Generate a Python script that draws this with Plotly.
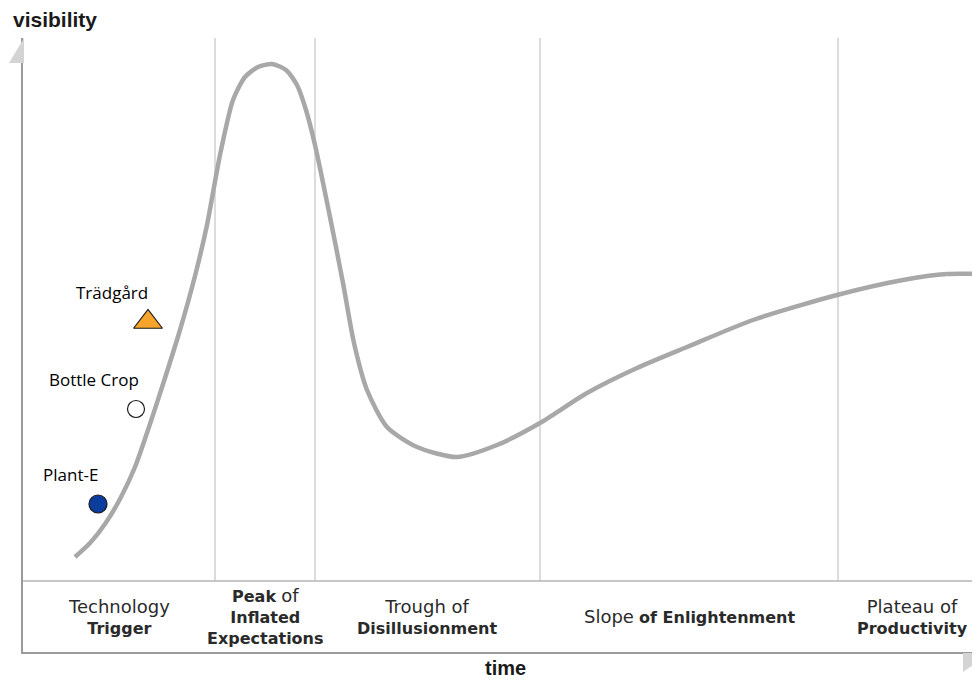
import plotly.graph_objects as go

# ---- data (time units, visibility units) ----
curve_time = [52, 67, 82, 97, 112, 127, 142, 157, 172, 184, 197, 210, 222, 235, 249, 263, 274,
              283, 292, 307, 320, 331, 344, 364, 394, 434, 474, 517, 564, 614, 664, 730, 814,
              880, 924, 957]
curve_vis = [95, 109, 128, 153, 185, 228, 274, 322, 376, 427, 497, 552, 575, 585, 588, 582, 567,
             542, 507, 435, 369, 309, 262, 225, 205, 195, 207, 229, 259, 284, 305, 332, 357,
             372, 378, 378]

tech_names = ["Trädgård", "Bottle Crop", "Plant-E"]
tech_time = [125, 113, 75]
tech_vis = [330, 243, 148]
tech_symbols = ["triangle-up", "circle", "circle"]
tech_colors = ["#f6a42c", "#ffffff", "#0a3d9e"]
label_time = [89, 71, 47]
label_vis = [360, 273, 178]

phase_bounds = [192, 292, 517, 815]
phase_centers = [96, 242, 404, 667, 889]
R = '<span style="font-size:18px">'
phase_labels = [
    f"{R}Technology</span><br><b>Trigger</b>",
    f"<b>Peak</b> {R}of</span><br><b>Inflated</b><br><b>Expectations</b>",
    f"{R}Trough of</span><br><b>Disillusionment</b>",
    f"{R}Slope</span> <b>of Enlightenment</b>",
    f"{R}Plateau of</span><br><b>Productivity</b>",
]

X_MAX = 957
Y_MAX = 614
BAND = 71

# page body has an 8px margin; plot area spans screen x 23..980, y 38..652
W, H = 980, 682
ML, MR, MT, MB = 15, 8, 30, 38


def pxp(sx):
    return (sx - 23) / 957


def pyp(sy):
    return (652 - sy) / 614


fig = go.Figure()

fig.add_trace(go.Scatter(
    x=curve_time, y=curve_vis, mode="lines",
    line=dict(color="#a8a8a8", width=4.5, shape="spline", smoothing=0.7),
    hoverinfo="skip", showlegend=False,
))

fig.add_trace(go.Scatter(
    x=tech_time, y=tech_vis, mode="markers",
    marker=dict(symbol=tech_symbols, color=tech_colors, opacity=1,
                size=[25, 17, 18], line=dict(color="#1a1a1a", width=1.2)),
    text=tech_names, hoverinfo="text", showlegend=False,
))

shapes = []
for b in phase_bounds:
    shapes.append(dict(type="line", xref="x", yref="y", x0=b, x1=b, y0=BAND, y1=Y_MAX,
                       line=dict(color="#dcdcdc", width=2), layer="below"))
shapes.append(dict(type="line", xref="x", yref="y", x0=0, x1=X_MAX, y0=BAND, y1=BAND,
                   line=dict(color="#b4b4b4", width=1.5), layer="below"))
# arrow heads
shapes.append(dict(type="path", xref="paper", yref="paper",
                   path=f"M {pxp(24)} {pyp(38)} L {pxp(24)} {pyp(63)} L {pxp(9)} {pyp(63)} Z",
                   fillcolor="#d4d4d4", line=dict(width=0)))
shapes.append(dict(type="path", xref="paper", yref="paper",
                   path=f"M {pxp(963)} {pyp(653)} L {pxp(990)} {pyp(653)} L {pxp(963)} {pyp(672)} Z",
                   fillcolor="#d4d4d4", line=dict(width=0)))

annotations = []
for name, lx, ly in zip(tech_names, label_time, label_vis):
    annotations.append(dict(x=lx, y=ly, xref="x", yref="y", text=name, showarrow=False,
                            font=dict(family="Open Sans", size=17, color="#000000")))
for cx, lab in zip(phase_centers, phase_labels):
    annotations.append(dict(x=cx, y=BAND / 2, xref="x", yref="y", text=lab, showarrow=False,
                            align="center",
                            font=dict(family="DejaVu Sans", size=16, color="#2a2a2a")))
annotations.append(dict(x=pxp(55), y=pyp(20), xref="paper", yref="paper", text="<b>visibility</b>",
                        xanchor="center", yanchor="middle", showarrow=False,
                        font=dict(family="Liberation Sans", size=21, color="#1a1a1a")))
annotations.append(dict(x=pxp(505), y=pyp(668), xref="paper", yref="paper", text="<b>time</b>",
                        xanchor="center", yanchor="middle", showarrow=False,
                        font=dict(family="Liberation Sans", size=20, color="#1a1a1a")))

fig.update_layout(
    width=W, height=H,
    margin=dict(l=ML, r=MR, t=MT, b=MB),
    paper_bgcolor="white", plot_bgcolor="white",
    xaxis=dict(range=[0, X_MAX], showgrid=False, zeroline=False, showticklabels=False,
               showline=True, linecolor="#9a9a9a", linewidth=2, ticks=""),
    yaxis=dict(range=[0, Y_MAX], showgrid=False, zeroline=False, showticklabels=False,
               showline=True, linecolor="#9a9a9a", linewidth=2, ticks=""),
    shapes=shapes, annotations=annotations,
)

fig.write_html("out.html")
